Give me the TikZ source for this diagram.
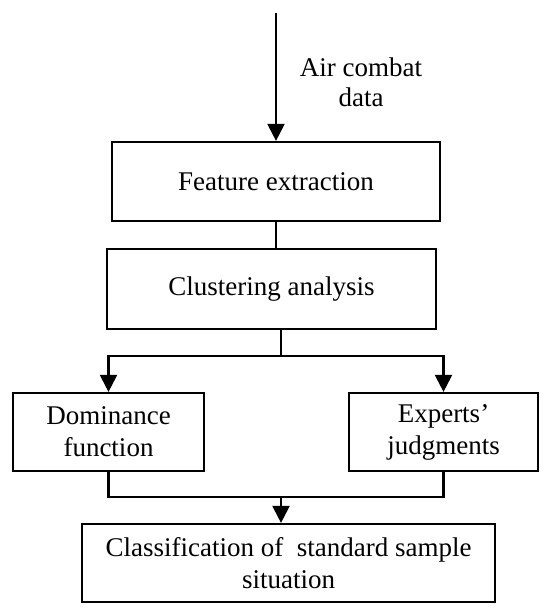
\documentclass[tikz,border=0pt]{standalone}
\usepackage{fontspec}
\setmainfont{Liberation Serif}
\usetikzlibrary{arrows.meta,positioning,calc}

\begin{document}
\begin{tikzpicture}[
    x=1pt, y=-1pt,
    box/.style={draw, line width=2.2pt, inner sep=0pt, align=center, font=\fontsize{27}{32}\selectfont},
    line/.style={line width=2.2pt},
    arr/.style={line width=2.2pt, -{Triangle[length=17pt,width=17pt]}}
]
\useasboundingbox (0,0) rectangle (550,614);

\node[box, minimum width=328pt, minimum height=79pt] (feat) at (276,181.5) {Feature extraction};
\node[box, minimum width=329pt, minimum height=80pt] (clus) at (271.5,289) {Clustering analysis};
\node[box, minimum width=191pt, minimum height=78pt] (dom) at (108.5,432) {Dominance\\function};
\node[box, minimum width=189pt, minimum height=78pt] (exp) at (443.5,432) {Experts'\\judgments};
\node[box, minimum width=413pt, minimum height=78pt] (cls) at (288.5,563) {Classification of\ \ standard sample\\situation};

\coordinate (src) at (276,13);
\coordinate (fork) at (281,356);
\coordinate (join) at (281,497);
\node[align=center, font=\fontsize{27}{30}\selectfont] (data) at (361,82) {Air combat\\data};

\draw[arr] (src) -- (feat.north);
\draw[line] (feat.south) -- (feat.south |- clus.north);
\draw[line] (fork |- clus.south) -- (fork);
\draw[arr] (fork) -| (dom.north);
\draw[arr] (fork) -| (exp.north);
\draw[line] (dom.south) |- (join) -| (exp.south);
\draw[arr] (join) -- (join |- cls.north);
\end{tikzpicture}
\end{document}
